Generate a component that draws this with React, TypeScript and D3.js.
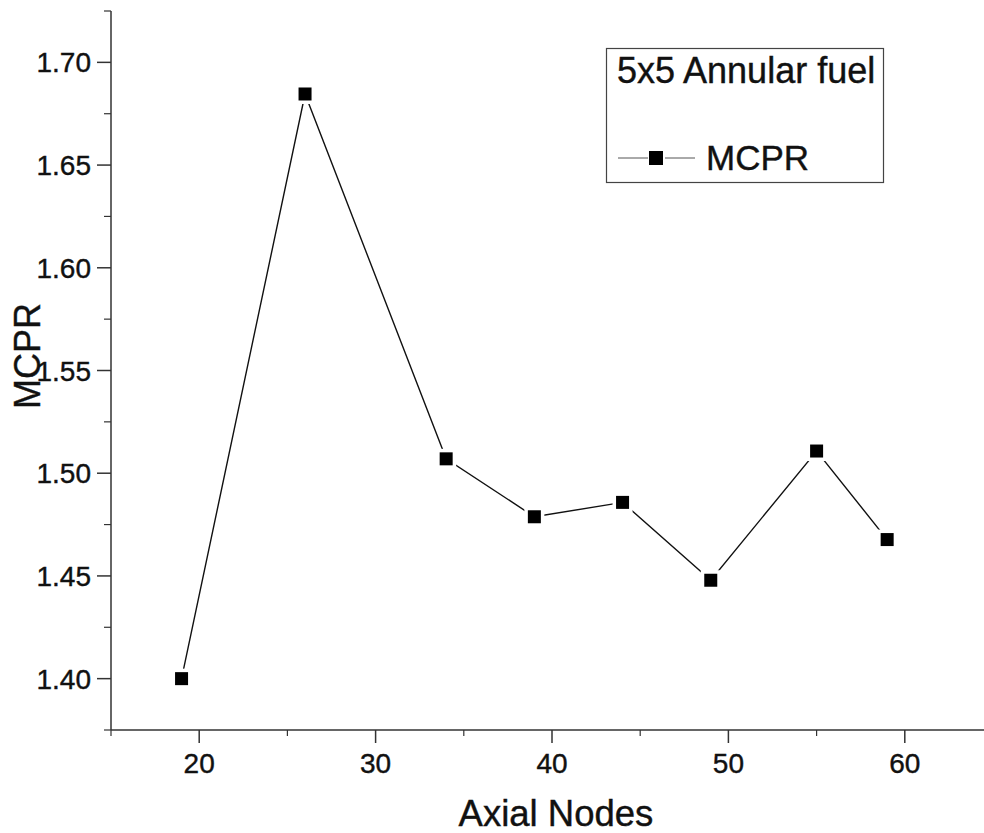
import React from "react";
import * as d3 from "d3";

const axialNodes = [19, 26, 34, 39, 44, 49, 55, 59];
const mcpr = [1.4, 1.6846, 1.507, 1.4788, 1.4858, 1.4479, 1.5108, 1.4677];
const xMajorTicks = [20, 30, 40, 50, 60];
const xMinorTicks = [15, 25, 35, 45, 55];
const yMajorTicks = [1.4, 1.45, 1.5, 1.55, 1.6, 1.65, 1.7];
const yMinorTicks = [1.375, 1.425, 1.475, 1.525, 1.575, 1.625, 1.675, 1.725];
const legendTitle = "5x5 Annular fuel";
const seriesName = "MCPR";
const xTitle = "Axial Nodes";
const yTitle = "MCPR";

const W = 984;
const H = 833;
const FONT = "'Liberation Sans', Arial, Helvetica, sans-serif";

export default function App() {
  const x = d3.scaleLinear().domain([15, 65]).range([111, 993]);
  const y = d3.scaleLinear().domain([1.375, 1.725]).range([730, 11]);
  const data = axialNodes.map((n, i) => ({ n, v: mcpr[i] }));
  const line = d3
    .line<{ n: number; v: number }>()
    .x((d) => x(d.n))
    .y((d) => y(d.v));
  const axisColor = "#333";
  const ms = 13;
  const textStyle = { stroke: "#111", strokeWidth: 0.4 } as React.CSSProperties;

  return (
    <svg
      width={W}
      height={H}
      style={{ position: "absolute", left: 0, top: 0, background: "#fff" }}
      fontFamily={FONT}
    >
      <rect x={0} y={0} width={W} height={H} fill="#fff" />
      {/* axes */}
      <line x1={111} x2={111} y1={y(1.725)} y2={730} stroke={axisColor} strokeWidth={1.5} />
      <line x1={111} x2={W} y1={730} y2={730} stroke={axisColor} strokeWidth={1.5} />
      {yMajorTicks.map((t) => (
        <g key={"ym" + t}>
          <line x1={97} x2={111} y1={y(t)} y2={y(t)} stroke={axisColor} strokeWidth={1.5} />
          <text x={91} y={y(t) + 10} textAnchor="end" fontSize={28} fill="#111" style={textStyle}>
            {d3.format(".2f")(t)}
          </text>
        </g>
      ))}
      {yMinorTicks.map((t) => (
        <line key={"yn" + t} x1={104} x2={111} y1={y(t)} y2={y(t)} stroke={axisColor} strokeWidth={1.2} />
      ))}
      {xMajorTicks.map((t) => (
        <g key={"xm" + t}>
          <line x1={x(t)} x2={x(t)} y1={730} y2={743} stroke={axisColor} strokeWidth={1.5} />
          <text x={x(t)} y={773} textAnchor="middle" fontSize={28} fill="#111" style={textStyle}>
            {t}
          </text>
        </g>
      ))}
      {xMinorTicks.map((t) => (
        <line key={"xn" + t} x1={x(t)} x2={x(t)} y1={730} y2={736} stroke={axisColor} strokeWidth={1.2} />
      ))}
      {/* axis titles */}
      <text x={556} y={826} textAnchor="middle" fontSize={36.5} fill="#111" style={textStyle}>
        {xTitle}
      </text>
      <text
        transform={`translate(40, 356) rotate(-90)`}
        textAnchor="middle"
        fontSize={36}
        fill="#111"
        style={textStyle}
      >
        {yTitle}
      </text>
      {/* data line */}
      <path d={line(data) || ""} fill="none" stroke="#111" strokeWidth={1.4} />
      {data.map((d, i) => (
        <g key={"p" + i}>
          <rect x={x(d.n) - 10} y={y(d.v) - 10} width={20} height={20} fill="#fff" />
          <rect x={x(d.n) - ms / 2} y={y(d.v) - ms / 2} width={ms} height={ms} fill="#000" />
        </g>
      ))}
      {/* legend */}
      <rect x={606.5} y={48.5} width={277} height={134} fill="#fff" stroke="#444" strokeWidth={1.2} />
      <text x={617} y={83} fontSize={36} fill="#111" style={textStyle}>
        {legendTitle}
      </text>
      <line x1={618} x2={695} y1={158} y2={158} stroke="#555" strokeWidth={1} />
      <rect x={648} y={150} width={17} height={17} fill="#fff" />
      <rect x={649} y={151} width={14} height={14} fill="#000" />
      <text x={706} y={170} fontSize={35} fill="#111" style={textStyle}>
        {seriesName}
      </text>
    </svg>
  );
}
